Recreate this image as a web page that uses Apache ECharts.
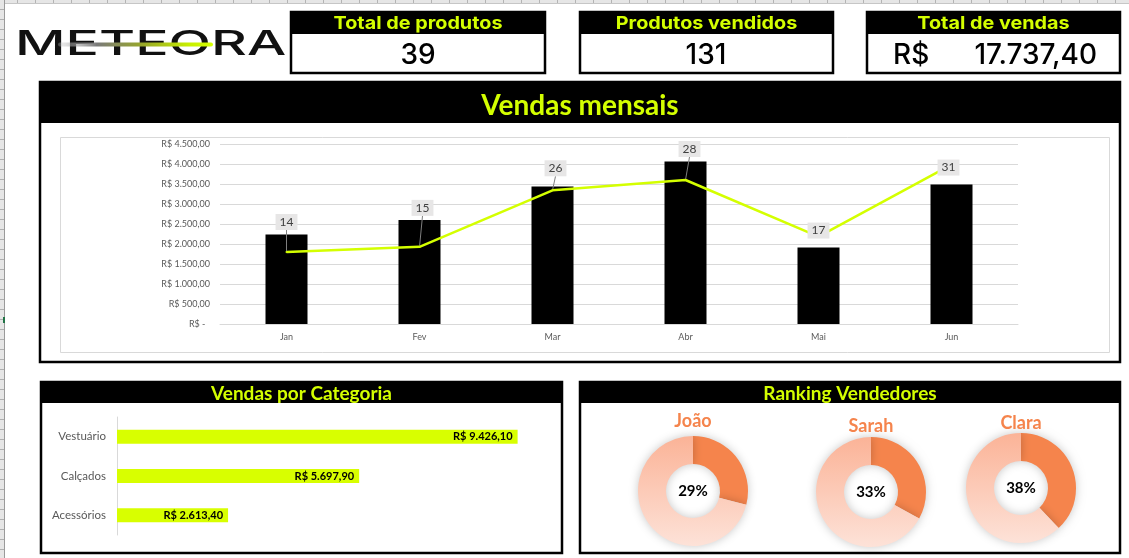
<!DOCTYPE html>
<html><head><meta charset="utf-8">
<script src="https://cdn.jsdelivr.net/npm/echarts@6/dist/echarts.min.js"></script>
<style>
html,body{margin:0;padding:0;background:#fff;overflow:hidden}
#bgTop{position:absolute;left:0;top:0;width:1129px;height:3px;background:repeating-linear-gradient(to right,#e6e6e6 0,#e6e6e6 17px,#b4b4b4 17px,#b4b4b4 18px);border-bottom:1px solid #c6c6c6}
#bgLeft{position:absolute;left:0;top:0;width:4px;height:558px;background:repeating-linear-gradient(to bottom,#e6e6e6 0,#e6e6e6 9px,#b0b0b0 9px,#b0b0b0 10px);border-right:1px solid #9a9a9a}
#mark{position:absolute;left:3px;top:317px;width:2px;height:6px;background:#217346}
#chart{position:absolute;left:0;top:0;width:1129px;height:558px}
</style></head>
<body>
<div id="bgTop"></div><div id="bgLeft"></div><div id="mark"></div>
<div id="chart"></div>
<script>
// ---- data ----
const months = ['Jan', 'Fev', 'Mar', 'Abr', 'Mai', 'Jun'];
const monthlySales = [2240, 2600, 3440, 4060, 1910, 3487.4];
const monthlyQty = [14, 15, 26, 28, 17, 31];
const categories = ['Vestuário', 'Calçados', 'Acessórios'];
const categorySales = [9426.10, 5697.90, 2613.40];
const sellers = ['João', 'Sarah', 'Clara'];
const sellerShare = [29, 33, 38];
const totalProducts = 39;
const kpiTitles = ['Total de produtos', 'Produtos vendidos', 'Total de vendas'];

// ---- helpers ----
const YG = '#d4ff00';
const ORANGE = '#f5844c';
function brl(v) {
  const s = v.toFixed(2).split('.');
  return s[0].replace(/\B(?=(\d{3})+(?!\d))/g, '.') + ',' + s[1];
}
const totalSold = monthlyQty.reduce((a, b) => a + b, 0);
const totalSales = categorySales.reduce((a, b) => a + b, 0);

const graphics = [];
function panel(x, y, w, h, hh, title, font, sx, dy) {
  graphics.push({type: 'rect', shape: {x: x, y: y, width: w, height: h},
    style: {fill: '#fff', stroke: '#000', lineWidth: 2.5}, z: 0});
  graphics.push({type: 'rect', shape: {x: x, y: y, width: w, height: hh},
    style: {fill: '#000'}, z: 1});
  graphics.push({type: 'text', z: 2, x: x + w / 2, y: y + hh / 2 + (dy || 1), scaleX: sx || 1,
    style: {text: title, x: 0, y: 0,
    fill: YG, font: font, align: 'center', verticalAlign: 'middle'}});
}
// KPI boxes
const kpiBoxes = [[291, 254], [580, 253], [867, 253]];
kpiBoxes.forEach((b, i) => panel(b[0], 12, b[1], 61, 22, kpiTitles[i], 'bold 18px Inter', 1.1, 1));
graphics.push({type: 'text', z: 2, style: {text: String(totalProducts), x: 291 + 127, y: 56,
  fill: '#000', font: '500 28px Inter', align: 'center', verticalAlign: 'middle'}});
graphics.push({type: 'text', z: 2, style: {text: String(totalSold), x: 580 + 126, y: 56,
  fill: '#000', font: '500 28px Inter', align: 'center', verticalAlign: 'middle'}});
graphics.push({type: 'text', z: 2, style: {text: 'R$', x: 893, y: 56,
  fill: '#000', font: '500 28px Inter', align: 'left', verticalAlign: 'middle'}});
graphics.push({type: 'text', z: 2, style: {text: brl(totalSales), x: 1097, y: 56,
  fill: '#000', font: '500 28px Inter', align: 'right', verticalAlign: 'middle'}});

// main panels
panel(40, 82, 1080, 280, 41, 'Vendas mensais', 'bold 28px Lato', 1, 3);
graphics.push({type: 'rect', shape: {x: 60.5, y: 137.5, width: 1049, height: 215},
  style: {fill: 'none', stroke: '#d9d9d9', lineWidth: 1}, z: 2});
panel(41, 382, 521, 171, 21, 'Vendas por Categoria', 'bold 19px Lato', 1, 1);
panel(580, 382, 540, 171, 21, 'Ranking Vendedores', 'bold 19px Lato', 1, 1);

// logo
graphics.push({type: 'text', x: 15, y: 45, scaleX: 1.63, z: 3,
  style: {text: 'METEORA', x: 0, y: 0, fill: '#111', font: '500 34px Inter',
    align: 'left', verticalAlign: 'middle'}});
graphics.push({type: 'rect', z: 4, shape: {x: 58, y: 42.5, width: 155, height: 4, r: 2},
  style: {fill: new echarts.graphic.LinearGradient(0, 0, 1, 0, [
    {offset: 0, color: 'rgba(200,200,200,0.3)'},
    {offset: 0.25, color: '#7a7a7a'},
    {offset: 0.55, color: '#98a828'},
    {offset: 0.85, color: '#c8f000'},
    {offset: 1, color: YG}])}});

// donut centers / names
const donutCenters = [[693, 491], [871, 492], [1021, 488]];
const nameY = [421, 426, 423];
sellers.forEach((s, i) => {
  graphics.push({type: 'text', z: 3, style: {text: s, x: donutCenters[i][0], y: nameY[i],
    fill: ORANGE, font: 'bold 18px Lato', align: 'center', verticalAlign: 'middle'}});
});

const labelOffsets = [[0, -16], [3, -25], [3, -8], [4, -17], [0, 8], [-3, 17]];

const pieSeries = sellerShare.map((p, i) => ({
  type: 'pie', silent: true, center: donutCenters[i], radius: [27, 55],
  startAngle: 90, clockwise: true,
  itemStyle: {shadowBlur: 10, shadowColor: 'rgba(0,0,0,0.22)'},
  labelLine: {show: false},
  data: [
    {value: p, name: sellers[i], itemStyle: {color: ORANGE},
      label: {show: true, position: 'center', formatter: p + '%',
        fontFamily: 'Lato', fontWeight: 'bold', fontSize: 15, color: '#000'}},
    {value: 100 - p, name: 'resto', label: {show: false},
      itemStyle: {color: new echarts.graphic.LinearGradient(0, 0, 0, 1, [
        {offset: 0, color: '#fbb397'}, {offset: 1, color: '#fde2d8'}])}}
  ]
}));

const option = {
  animation: false,
  textStyle: {fontFamily: 'Lato'},
  graphic: {elements: graphics},
  grid: [
    {left: 220, top: 144, width: 798, height: 180},
    {left: 117, top: 417, width: 425, height: 118}
  ],
  xAxis: [
    {type: 'category', gridIndex: 0, data: months,
      axisLine: {lineStyle: {color: '#d9d9d9'}}, axisTick: {show: false},
      axisLabel: {color: '#595959', fontSize: 9, margin: 9}},
    {type: 'value', gridIndex: 1, min: 0, max: 10000, show: false}
  ],
  yAxis: [
    {type: 'value', gridIndex: 0, min: 0, max: 4500, interval: 500,
      axisLine: {show: false}, axisTick: {show: false},
      splitLine: {lineStyle: {color: '#d9d9d9'}},
      axisLabel: {color: '#595959', fontSize: 9, margin: 10,
        formatter: v => v === 0 ? 'R$ -  ' : 'R$ ' + brl(v)}},
    {type: 'value', gridIndex: 0, min: 0, max: 35, show: false, splitLine: {show: false}},
    {type: 'category', gridIndex: 1, data: categories, inverse: true,
      axisLine: {show: true, lineStyle: {color: '#d9d9d9'}}, axisTick: {show: false},
      axisLabel: {color: '#595959', fontSize: 11.5, margin: 11}}
  ],
  series: [
    {type: 'bar', xAxisIndex: 0, yAxisIndex: 0, data: monthlySales, barWidth: 42,
      itemStyle: {color: '#000'}, silent: true},
    {type: 'line', xAxisIndex: 0, yAxisIndex: 1, silent: true,
      data: monthlyQty.map((v, i) => ({value: v, labelLine: {show: i < 4}})),
      symbol: 'circle', symbolSize: 2, showSymbol: true,
      itemStyle: {color: YG}, lineStyle: {color: YG, width: 2.5},
      label: {show: true, position: 'top', distance: 5, color: '#404040', fontSize: 12,
        backgroundColor: '#e7e6e6', padding: [2, 4, 2, 4]},
      labelLine: {show: true, lineStyle: {color: '#7f7f7f', width: 1}},
      labelLayout: p => ({dx: labelOffsets[p.dataIndex][0], dy: labelOffsets[p.dataIndex][1]}),
      z: 5},
    {type: 'bar', xAxisIndex: 1, yAxisIndex: 2, data: categorySales, barWidth: 14,
      silent: true, itemStyle: {color: '#d8ff00'},
      label: {show: true, position: 'insideRight', distance: 5, color: '#000',
        fontWeight: 'bold', fontSize: 11, formatter: p => 'R$ ' + brl(p.value)}}
  ].concat(pieSeries)
};
const chart = echarts.init(document.getElementById('chart'), null, {renderer: 'canvas'});
chart.setOption(option);
</script>
</body></html>
